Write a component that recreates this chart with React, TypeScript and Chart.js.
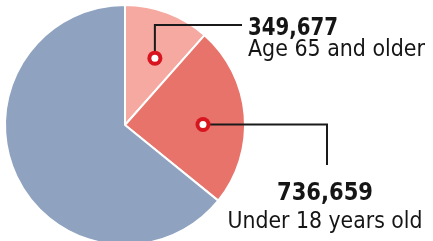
import React, { useEffect, useRef } from "react";
import { Chart, registerables } from "chart.js";

Chart.register(...registerables);

const categories = ["Age 65 and older", "Under 18 years old", "Age 18 to 64"];
const values = [349677, 736659, 1944000];
const valueLabels = ["349,677", "736,659"];
const colors = ["#f5a9a0", "#e8736a", "#8fa2c0"];

const NUM_FONT = "bold 25px 'DejaVu Sans Condensed', 'Liberation Sans Narrow', sans-serif";
const LBL_FONT = "500 23px 'DejaVu Sans Condensed', 'Liberation Sans Narrow', sans-serif";

function fitText(ctx: CanvasRenderingContext2D, text: string, font: string, x: number, y: number, w: number, centered: boolean) {
  ctx.save();
  ctx.font = font;
  ctx.textBaseline = "alphabetic";
  ctx.textAlign = "left";
  const m = ctx.measureText(text).width;
  const s = w / m;
  const left = centered ? x - w / 2 : x;
  ctx.translate(left, y);
  ctx.scale(s, 1);
  ctx.fillStyle = "#151515";
  ctx.fillText(text, 0, 0);
  ctx.restore();
}

const calloutPlugin = {
  id: "callouts",
  afterDatasetsDraw(chart: any) {
    const ctx: CanvasRenderingContext2D = chart.ctx;
    const meta = chart.getDatasetMeta(0);
    const specs = [
      {
        index: 0,
        frac: 0.58,
        rad: 0.61,
        path: (p: number[]) => [[p[0], p[1]], [p[0], 25], [242, 25]],
        num: { x: 248, y: 35, w: 90, c: false },
        lbl: { x: 248, y: 56, w: 177, c: false },
      },
      {
        index: 1,
        frac: 0.55,
        rad: 0.65,
        path: (p: number[]) => [[p[0], p[1]], [327, p[1]], [327, 165]],
        num: { x: 325, y: 200, w: 96, c: true },
        lbl: { x: 325, y: 228, w: 195, c: true },
      },
    ];
    specs.forEach((s) => {
      const arc = meta.data[s.index];
      const { x, y, startAngle, endAngle, outerRadius } = arc.getProps(["x", "y", "startAngle", "endAngle", "outerRadius"], true);
      const a = startAngle + s.frac * (endAngle - startAngle);
      const r = s.rad * outerRadius;
      const p = [x + Math.cos(a) * r, y + Math.sin(a) * r];
      const pts = s.path(p);
      ctx.save();
      ctx.strokeStyle = "#1a1a1a";
      ctx.lineWidth = 2;
      ctx.beginPath();
      pts.forEach((q, i) => (i === 0 ? ctx.moveTo(q[0], q[1]) : ctx.lineTo(q[0], q[1])));
      ctx.stroke();
      ctx.fillStyle = "#d8141f";
      ctx.beginPath();
      ctx.arc(p[0], p[1], 7.5, 0, Math.PI * 2);
      ctx.fill();
      ctx.fillStyle = "#ffffff";
      ctx.beginPath();
      ctx.arc(p[0], p[1], 3.5, 0, Math.PI * 2);
      ctx.fill();
      ctx.restore();
      fitText(ctx, valueLabels[s.index], NUM_FONT, s.num.x, s.num.y, s.num.w, s.num.c);
      fitText(ctx, categories[s.index], LBL_FONT, s.lbl.x, s.lbl.y, s.lbl.w, s.lbl.c);
    });
  },
};

export default function App() {
  const ref = useRef<HTMLCanvasElement>(null);
  useEffect(() => {
    document.body.style.margin = "0";
    const chart = new Chart(ref.current!, {
      type: "pie",
      data: {
        labels: categories,
        datasets: [
          {
            data: values,
            backgroundColor: colors,
            borderColor: "#ffffff",
            borderWidth: 2,
          },
        ],
      },
      options: {
        responsive: false,
        animation: false,
        layout: { padding: { left: 4, right: 187, top: 4, bottom: 4 } },
        plugins: { legend: { display: false }, tooltip: { enabled: false } },
      },
      plugins: [calloutPlugin],
    });
    return () => chart.destroy();
  }, []);
  return (
    <div style={{ width: 433, height: 241, overflow: "hidden", background: "#fff" }}>
      <canvas ref={ref} width={433} height={250} style={{ width: 433, height: 250, display: "block" }} />
    </div>
  );
}
